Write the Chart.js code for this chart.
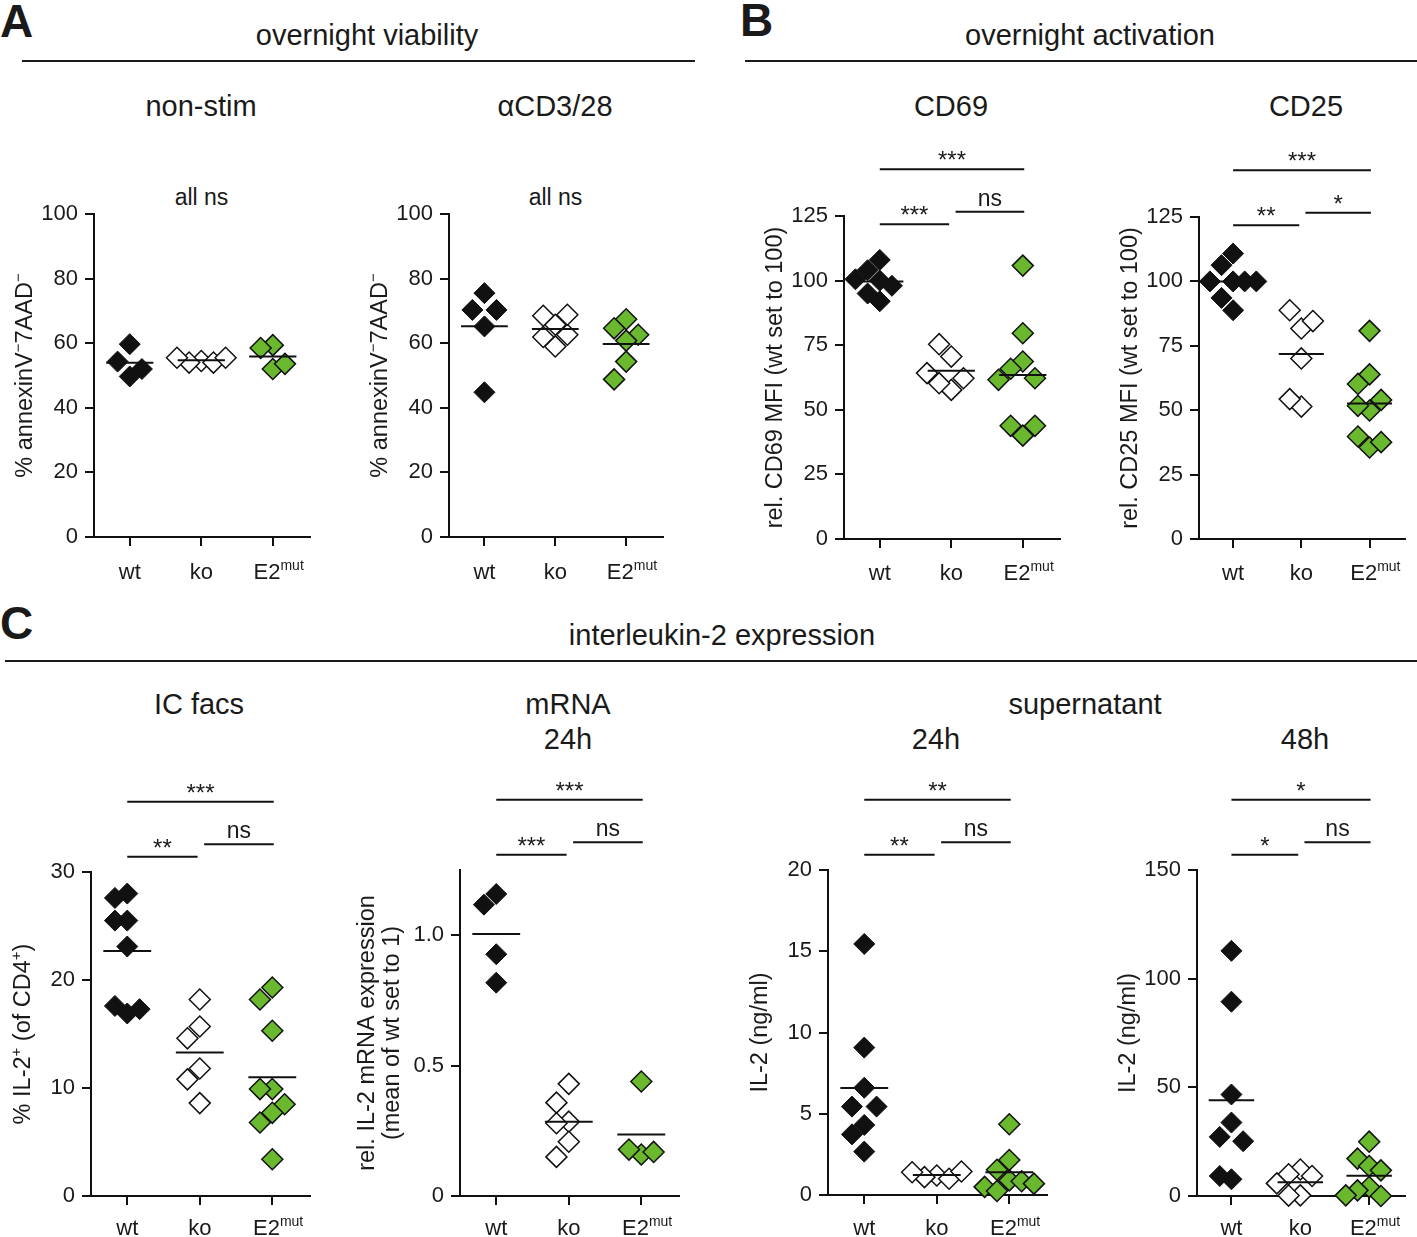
<!DOCTYPE html>
<html>
<head>
<meta charset="utf-8">
<title>IL-2 figure</title>
<script src="https://cdn.jsdelivr.net/npm/chart.js@4.4.0/dist/chart.umd.min.js"></script>
<style>
  html, body { margin: 0; padding: 0; background: #fff; }
  body { position: relative; width: 1417px; height: 1237px; overflow: hidden;
         font-family: "Liberation Sans", Arial, sans-serif; color: #1a1a1a; }
  .txt { position: absolute; white-space: nowrap; line-height: 1; }
  .rule { position: absolute; height: 2px; background: #1a1a1a; }
  canvas { position: absolute; }
</style>
</head>
<body>
<div class="rule" style="left:22px;top:60px;width:673px"></div>
<div class="rule" style="left:745px;top:60px;width:672px"></div>
<div class="rule" style="left:5px;top:660px;width:1412px"></div>
<script>
"use strict";

// categories
const groups = ['wt', 'ko', 'E2mut'];

// A - overnight viability (% annexinV- 7AAD-)
const viabNonStimWt = [59.7, 54.3, 49.7, 52.0];
const viabNonStimKo = [54.5, 54.0, 54.0, 55.5, 55.5];
const viabNonStimE2 = [59.4, 58.5, 52.0, 53.6];
const viabStimWt = [75.5, 70.3, 70.3, 65.2, 44.8];
const viabStimKo = [59.0, 61.9, 62.6, 65.7, 68.5, 68.8];
const viabStimE2 = [67.4, 64.6, 62.6, 60.8, 54.3, 48.8];

// B - overnight activation (rel. MFI, wt set to 100)
const cd69Wt = [100, 92, 108, 104, 95, 98, 100.5];
const cd69Ko = [57.7, 60.3, 62.2, 64.2, 70.6, 75.4];
const cd69E2 = [105.8, 79.6, 68.7, 65.9, 62.2, 61.6, 40.0, 43.8, 43.8];
const cd25Wt = [110.8, 106.3, 100, 100, 100, 100, 93.6, 88.8];
const cd25Ko = [81.7, 88.8, 84.6, 70.1, 51.4, 54.3];
const cd25E2 = [80.8, 49.9, 51.7, 54.0, 63.9, 60.2, 35.5, 39.8, 37.6];

// C - interleukin-2 expression
const facsWt = [28.0, 27.6, 25.5, 25.5, 23.1, 16.9, 17.6, 17.3];
const facsKo = [18.2, 15.7, 14.6, 11.8, 10.8, 8.6];
const facsE2 = [19.3, 18.2, 15.3, 9.9, 9.9, 8.5, 7.7, 6.8, 3.4];
const mrnaWt = [1.158, 1.117, 0.927, 0.818];
const mrnaKo = [0.430, 0.358, 0.285, 0.279, 0.208, 0.150];
const mrnaE2 = [0.439, 0.159, 0.178, 0.169];
const sup24Wt = [15.45, 9.07, 6.6, 5.44, 5.44, 4.31, 3.73, 2.67];
const sup24Ko = [1.2, 1.1, 1.0, 1.4, 1.45];
const sup24E2 = [4.35, 2.15, 1.55, 0.9, 0.85, 0.5, 0.25, 0.7];
const sup48Wt = [112.8, 89.4, 46.7, 33.8, 27.2, 25.2, 7.7, 9.2];
const sup48Ko = [12.2, 10.0, 9.2, 5.8, 0.3, 0.2];
const sup48E2 = [25.0, 17.2, 13.8, 11.8, 4.1, 2.6, 0.0, 0.3];

// significance: wt-ko, ko-E2mut, wt-E2mut
const sigCd69 = ['***', 'ns', '***'];
const sigCd25 = ['**', '*', '***'];
const sigFacs = ['**', 'ns', '***'];
const sigMrna = ['***', 'ns', '***'];
const sigSup24 = ['**', 'ns', '**'];
const sigSup48 = ['*', 'ns', '*'];


const FONT = '"Liberation Sans", Arial, sans-serif';
const INK = '#1a1a1a';
const fills = ['#111111', '#ffffff', '#6ab82e'];

// Headings (real text)
function label(text, x, base, size, bold, left) {
    const d = document.createElement('div');
    d.className = 'txt';
    d.textContent = text;
    d.style.fontSize = size + 'px';
    if (bold) d.style.fontWeight = 'bold';
    d.style.top = (base - 0.8465 * size) + 'px';
    d.style.left = x + 'px';
    if (!left) d.style.transform = 'translateX(-50%)';
    document.body.appendChild(d);
}
label('A', 0, 37, 46, true, true);
label('B', 740, 36, 46, true, true);
label('C', 0, 639, 46, true, true);
label('overnight viability', 367, 46, 29);
label('overnight activation', 1090, 46, 29);
label('non-stim', 201, 117, 29);
label('\u03b1CD3/28', 555, 117, 29);
label('CD69', 951, 117, 29);
label('CD25', 1306, 117, 29);
label('all ns', 201.5, 205, 23);
label('all ns', 555.5, 205, 23);
label('interleukin-2 expression', 722, 646, 29);
label('IC facs', 199, 715, 29);
label('mRNA', 568, 715, 29);
label('24h', 568, 750, 29);
label('supernatant', 1085, 715, 29);
label('24h', 936, 750, 29);
label('48h', 1305, 750, 29);


// simple beeswarm: spread points sideways when they would overlap
function swarm(values, center, thr, step) {
    const placed = [];
    const slots = [0, -1, 1, -2, 2, -3, 3];
    return values.map(function (v) {
        for (const s of slots) {
            if (!placed.some(p => p.s === s && Math.abs(p.v - v) < thr)) {
                placed.push({s: s, v: v});
                return {x: center + s * step, y: v};
            }
        }
        return {x: center, y: v};
    });
}

function mean(a) {
    return a.reduce((s, v) => s + v, 0) / a.length;
}

// text with superscript pieces
function partsWidth(ctx, parts, size, supWeight) {
    let w = 0;
    parts.forEach(function (p) {
        ctx.font = (p[1] ? Math.round(size * 0.62) : size) + 'px ' + FONT;
        w += ctx.measureText(p[0]).width * (p[1] ? supWeight : 1);
    });
    return w;
}
function drawParts(ctx, parts, x, base, size) {
    let cx = x;
    parts.forEach(function (p) {
        ctx.font = (p[1] ? Math.round(size * 0.62) : size) + 'px ' + FONT;
        ctx.fillText(p[0], cx, p[1] ? base - size * 0.4 : base);
        cx += ctx.measureText(p[0]).width;
    });
}

const xParts = [[['wt']], [['ko']], [['E2'], ['mut', 1]]];

function decorate(chart, p) {
    const ctx = chart.ctx;
    const a = chart.chartArea;
    const xs = chart.scales.x;
    ctx.save();
    ctx.fillStyle = INK;
    ctx.textAlign = 'left';
    ctx.textBaseline = 'alphabetic';

    // category labels
    groups.forEach(function (g, i) {
        const w = partsWidth(ctx, xParts[i], 22, 0.5);
        drawParts(ctx, xParts[i], xs.getPixelForValue(i) - w / 2, a.bottom + p.labelOff, 22);
    });

    // y axis title (rotated)
    const cy = (a.top + a.bottom) / 2;
    const ts = 23.5;
    p.title.forEach(function (line, k) {
        const cx = a.left - p.titleOff[k];
        const w = partsWidth(ctx, line, ts, 1);
        ctx.save();
        ctx.translate(cx, cy);
        ctx.rotate(-Math.PI / 2);
        drawParts(ctx, line, -w / 2, ts * 0.3, ts);
        ctx.restore();
    });

    // significance brackets
    if (p.sig) {
        const spans = [[0, 0.97], [1.06, 2.02], [0, 2.02]];
        ctx.strokeStyle = '#111';
        ctx.lineWidth = 2;
        ctx.textAlign = 'center';
        spans.forEach(function (s, k) {
            const x0 = xs.getPixelForValue(s[0]);
            const x1 = xs.getPixelForValue(s[1]);
            const y = a.top + p.levels[k];
            ctx.beginPath();
            ctx.moveTo(x0, y);
            ctx.lineTo(x1, y);
            ctx.stroke();
            const t = p.sig[k];
            if (t === 'ns') {
                ctx.font = '23px ' + FONT;
                ctx.fillText(t, (x0 + x1) / 2, y - 6);
            } else {
                ctx.font = '24px ' + FONT;
                ctx.fillText(t, (x0 + x1) / 2, y - 1);
            }
        });
    }
    ctx.restore();
}

const levelsTop = [8.3, -4.3, -46.7];
const levelsBottom = [-15.3, -27.7, -70.3];
const titleViab = [[['% annexinV'], ['\u2212', 1], ['7AAD'], ['\u2212', 1]]];

const panels = [
    {box: [0, 120, 355, 475], area: [94, 214, 310, 537], yMin: 0, yMax: 100, yStep: 20, labelOff: 42,
        sets: [viabNonStimWt, viabNonStimKo, viabNonStimE2], title: titleViab, titleOff: [69]},
    {box: [355, 120, 350, 475], area: [449, 214, 663, 537], yMin: 0, yMax: 100, yStep: 20, labelOff: 42,
        sets: [viabStimWt, viabStimKo, viabStimE2], title: titleViab, titleOff: [69]},
    {box: [735, 120, 337, 475], area: [844, 216, 1061, 539], yMin: 0, yMax: 125, yStep: 25, labelOff: 41,
        sets: [cd69Wt, cd69Ko, cd69E2], title: [[['rel. CD69 MFI (wt set to 100)']]], titleOff: [69],
        sig: sigCd69, levels: levelsTop},
    {box: [1072, 120, 345, 475], area: [1199, 217, 1415, 539], yMin: 0, yMax: 125, yStep: 25, labelOff: 41,
        sets: [cd25Wt, cd25Ko, cd25E2], title: [[['rel. CD25 MFI (wt set to 100)']]], titleOff: [69],
        sig: sigCd25, levels: levelsTop},
    {box: [0, 760, 345, 477], area: [91, 872, 310, 1196], yMin: 0, yMax: 30, yStep: 10, labelOff: 39,
        sets: [facsWt, facsKo, facsE2], title: [[['% IL-2'], ['+', 1], [' (of CD4'], ['+', 1], [')']]], titleOff: [68],
        sig: sigFacs, levels: levelsBottom},
    {box: [345, 760, 360, 477], area: [460, 870, 679, 1196], yMin: 0, yMax: 1.25, yStep: 0.5, labelOff: 39,
        fmt: v => (v === 0 ? '0' : v.toFixed(1)),
        sets: [mrnaWt, mrnaKo, mrnaE2],
        title: [[['rel. IL-2 mRNA expression']], [['(mean of wt set to 1)']]], titleOff: [93, 68],
        sig: sigMrna, levels: levelsBottom},
    {box: [720, 760, 348, 477], area: [828, 870, 1047, 1195], yMin: 0, yMax: 20, yStep: 5, labelOff: 40,
        sets: [sup24Wt, sup24Ko, sup24E2], title: [[['IL-2 (ng/ml)']]], titleOff: [68],
        sig: sigSup24, levels: levelsBottom},
    {box: [1068, 760, 349, 477], area: [1197, 870, 1416, 1196], yMin: 0, yMax: 150, yStep: 50, labelOff: 39,
        sets: [sup48Wt, sup48Ko, sup48E2], title: [[['IL-2 (ng/ml)']]], titleOff: [69],
        sig: sigSup48, levels: levelsBottom}
];

function axisStyle() {
    return {
        border: {display: true, color: '#111', width: 2},
        grid: {display: true, drawOnChartArea: false, drawTicks: true, tickLength: 9, color: '#111', lineWidth: 2}
    };
}

panels.forEach(function (p) {
    const [bx, by, bw, bh] = p.box;
    const cv = document.createElement('canvas');
    cv.width = bw;
    cv.height = bh;
    cv.style.left = bx + 'px';
    cv.style.top = by + 'px';
    cv.style.width = bw + 'px';
    cv.style.height = bh + 'px';
    document.body.appendChild(cv);

    const want = {l: p.area[0] - bx, t: p.area[1] - by, r: p.area[2] - bx, b: p.area[3] - by};
    const thr = 20 * (p.yMax - p.yMin) / (p.area[3] - p.area[1]);

    const datasets = [];
    p.sets.forEach(function (vals, i) {
        datasets.push({
            data: swarm(vals, i, thr, 0.17),
            pointStyle: 'rectRot',
            pointRadius: 10.5,
            pointHoverRadius: 10.5,
            pointBackgroundColor: fills[i],
            pointBorderColor: '#111',
            pointBorderWidth: i === 0 ? 1 : 1.5,
            showLine: false,
            clip: false,
            order: 1
        });
        const m = mean(vals);
        datasets.push({
            data: [{x: i - 0.33, y: m}, {x: i + 0.33, y: m}],
            showLine: true,
            borderColor: '#111',
            borderWidth: 2,
            pointRadius: 0,
            clip: false,
            order: 0
        });
    });

    const xAxis = Object.assign(axisStyle(), {
        type: 'linear', min: -0.5, max: 2.52,
        ticks: {display: false},
        afterBuildTicks: function (s) { s.ticks = [0, 1, 2].map(v => ({value: v})); }
    });
    const yAxis = Object.assign(axisStyle(), {
        min: p.yMin, max: p.yMax,
        ticks: {
            stepSize: p.yStep, includeBounds: false, padding: 7, color: INK,
            font: {family: FONT, size: 22},
            callback: p.fmt || (v => v)
        }
    });

    const chart = new Chart(cv, {
        type: 'scatter',
        data: {datasets: datasets},
        options: {
            responsive: false,
            animation: false,
            devicePixelRatio: 1,
            events: [],
            layout: {padding: {left: want.l - 55, top: want.t - 12, right: bw - want.r, bottom: bh - want.b - 9}},
            scales: {x: xAxis, y: yAxis},
            plugins: {legend: {display: false}, tooltip: {enabled: false}}
        },
        plugins: [{id: 'decor', afterDraw: c => decorate(c, p)}]
    });

    // nudge padding so the plot area lands where the reference has it
    for (let k = 0; k < 4; k++) {
        const a = chart.chartArea;
        const pad = chart.options.layout.padding;
        const dl = want.l - a.left, dt = want.t - a.top, dr = a.right - want.r, db = a.bottom - want.b;
        if (Math.abs(dl) + Math.abs(dt) + Math.abs(dr) + Math.abs(db) < 0.5) break;
        pad.left += dl; pad.top += dt; pad.right += dr; pad.bottom += db;
        chart.update('none');
    }
});
</script>
</body>
</html>
